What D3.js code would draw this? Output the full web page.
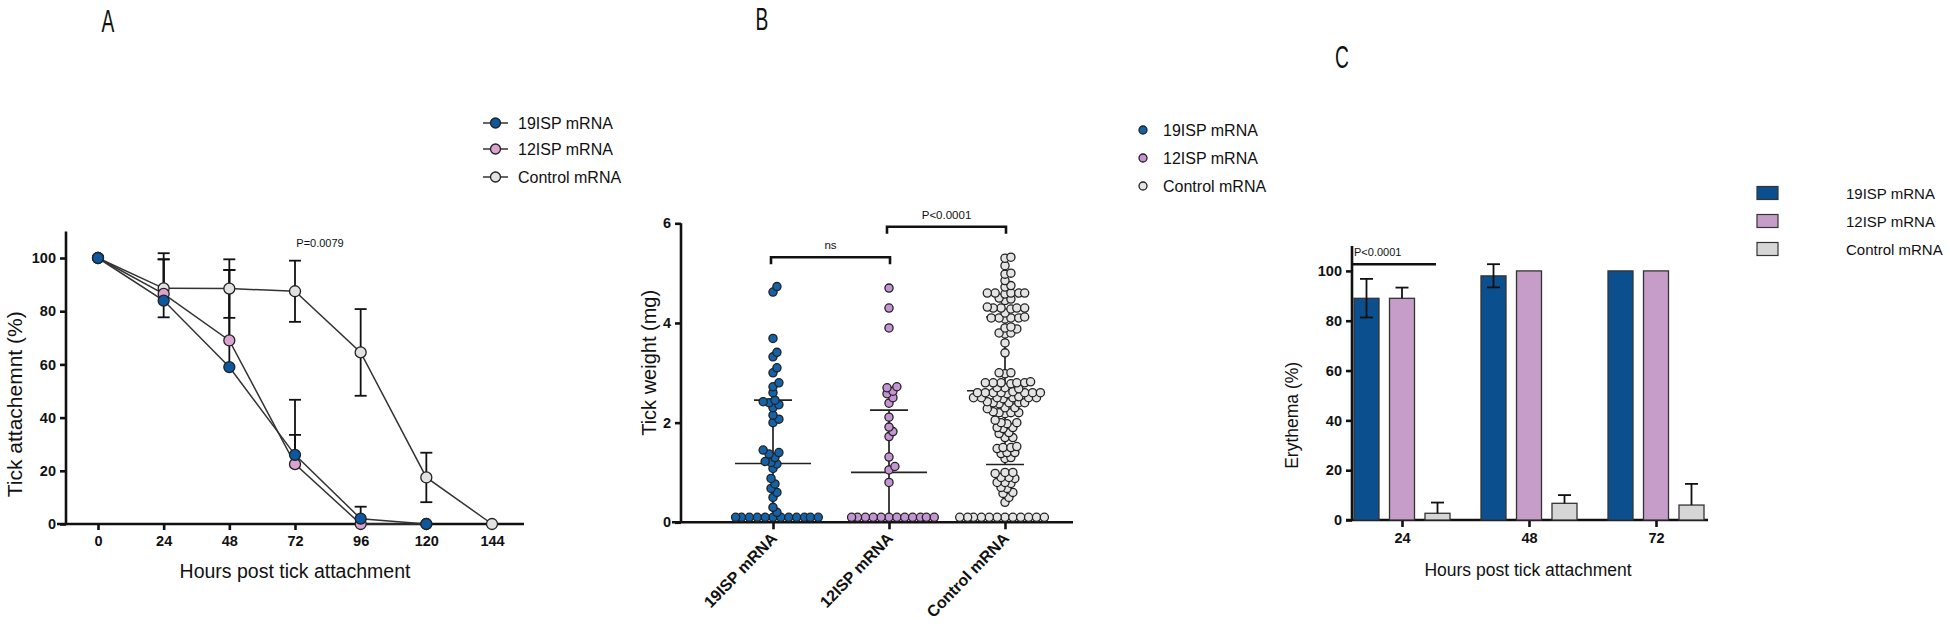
<!DOCTYPE html>
<html><head><meta charset="utf-8">
<script src="https://cdn.jsdelivr.net/npm/d3@7/dist/d3.min.js"></script>
<style>
body{margin:0;background:#fff;}
text{font-family:"Liberation Sans",Arial,sans-serif;fill:#111;}
</style></head>
<body>
<svg id="chart" width="1950" height="627"></svg>
<script>
// ---------------- DATA ----------------
// Panel A: tick attachment (%)
const hoursA = [0, 24, 48, 72, 96, 120, 144];
const seriesNames = ["19ISP mRNA", "12ISP mRNA", "Control mRNA"];
const attach19 = [100, 84, 59, 26, 2, 0, null];
const attach12 = [100, 86.5, 69, 22.5, 0, 0, null];
const attachCtl = [100, 88.6, 88.5, 87.5, 64.5, 17.5, 0];
const errUp19 = [0, 17.8, 36.5, 20.7, 4.5, 0, 0];
const errUp12 = [0, 13, 26.5, 11, 0, 0, 0];
const errUpCtl = [0, 10.9, 11, 11.5, 16.3, 9.3, 0];
const errDnCtl = [0, 10.9, 11, 11.5, 16.3, 9.3, 0];
const yTicksA = [0, 20, 40, 60, 80, 100];
const pA = "P=0.0079";

// Panel B: tick weight (mg)
const groupsB = ["19ISP mRNA", "12ISP mRNA", "Control mRNA"];
const weight19 = [4.73, 4.62, 3.69, 3.41, 3.32, 3.1, 3.0, 2.8, 2.72, 2.6, 2.45, 2.42, 2.4, 2.36, 2.3, 2.15, 2.07, 2.0,
  1.45, 1.4, 1.37, 1.3, 1.22, 1.2, 1.17, 1.08, 0.88, 0.77, 0.68, 0.6, 0.5, 0.3, 0.2,
  0.1, 0.1, 0.1, 0.1, 0.1, 0.1, 0.1, 0.1, 0.1, 0.1, 0.1, 0.1];
const weight12 = [4.7, 4.3, 3.9, 2.72, 2.7, 2.63, 2.58, 2.5, 2.39, 2.11, 1.91, 1.82, 1.72, 1.31, 1.12, 1.05, 0.8,
  0.1, 0.1, 0.1, 0.1, 0.1, 0.1, 0.1, 0.1, 0.1, 0.1, 0.1, 0.1];
const weightCtl = [5.32, 5.3, 5.15, 5.0, 4.98, 4.85, 4.75, 4.72,
  4.6, 4.6, 4.6, 4.58, 4.6, 4.6, 4.5, 4.48, 4.45,
  4.3, 4.3, 4.28, 4.3, 4.3, 4.32, 4.2, 4.1, 4.1, 4.1, 4.12, 4.08, 4.1,
  3.92, 3.9, 3.88, 3.8, 3.8, 3.78, 3.6, 3.4, 3.0, 3.0, 2.98,
  2.8, 2.8, 2.8, 2.78, 2.82, 2.8, 2.8, 2.7, 2.7, 2.68,
  2.6, 2.6, 2.6, 2.6, 2.62, 2.58, 2.6, 2.6, 2.6, 2.5, 2.5, 2.5, 2.48, 2.52, 2.5, 2.5, 2.5,
  2.4, 2.4, 2.4, 2.38, 2.42, 2.4, 2.3, 2.3, 2.28, 2.2, 2.2, 2.22, 2.18, 2.2,
  2.05, 2.0, 2.0, 1.98, 1.9, 1.9, 1.88, 1.8, 1.78, 1.7, 1.7,
  1.5, 1.5, 1.48, 1.52, 1.4, 1.4, 1.38, 1.3, 1.28,
  1.0, 1.0, 0.98, 0.9, 0.9, 0.88, 0.8, 0.8, 0.78, 0.7, 0.68, 0.6, 0.58, 0.5, 0.4,
  0.1, 0.1, 0.1, 0.1, 0.1, 0.1, 0.1, 0.1, 0.1, 0.1, 0.1, 0.1];
const meanB = [1.18, 1.0, 2.64];
const sdB = [1.27, 1.25, 1.48];
const yTicksB = [0, 2, 4, 6];
const bracketsB = [{from: 0, to: 1, label: "ns", level: 5.32}, {from: 1, to: 2, label: "P<0.0001", level: 5.93}];

// Panel C: erythema (%)
const hoursC = ["24", "48", "72"];
const ery19 = [89, 98, 100];
const ery12 = [89, 100, 100];
const eryCtl = [2.7, 6.7, 6];
const eryErrUp19 = [7.8, 4.7, 0];
const eryErrDn19 = [7.7, 4.6, 0];
const eryErrUp12 = [4.3, 0, 0];
const eryErrUpCtl = [4.3, 3.3, 8.5];
const yTicksC = [0, 20, 40, 60, 80, 100];
const pC = "P<0.0001";

// ---------------- STYLE ----------------
const NARROW = "'Liberation Sans Narrow','Arial Narrow','DejaVu Sans Condensed',sans-serif";
const colA = ["#0b57a0", "#dba3cf", "#e2e2e2"];
const colB = ["#1462a8", "#c595d3", "#e4e4e4"];
const colC = ["#0c4f8e", "#c69dc9", "#d6d6d6"];
const svg = d3.select("#chart");
const AXW = 2.6;

function styleAxis(g) {
  g.selectAll(".domain").attr("stroke", "#111").attr("stroke-width", AXW);
  g.selectAll(".tick line").attr("stroke", "#111").attr("stroke-width", AXW);
  g.selectAll(".tick text").attr("font-weight", "bold").attr("font-size", 14.5)
    .attr("font-family", NARROW).attr("fill", "#111");
}

// panel letters
[["A", 108, 32], ["B", 762, 30], ["C", 1342, 68]].forEach(d => {
  svg.append("text").attr("transform", `translate(${d[1]},${d[2]}) scale(0.62,1)`)
    .attr("text-anchor", "middle").attr("font-size", 31).text(d[0]);
});

// =============== PANEL A =================
{
  const x = d3.scaleLinear().domain([0, 144]).range([98, 492]);
  const y = d3.scaleLinear().domain([0, 110]).range([524, 231.4]);
  const gA = svg.append("g");
  const xa = gA.append("g").attr("transform", `translate(0,${y(0)})`)
    .call(d3.axisBottom(x).tickValues(hoursA).tickSize(6).tickPadding(6).tickSizeOuter(0));
  xa.select(".domain").attr("d", `M57,0H524`);
  styleAxis(xa);
  const ya = gA.append("g").attr("transform", `translate(66,0)`)
    .call(d3.axisLeft(y).tickValues(yTicksA).tickSize(6).tickPadding(4).tickSizeOuter(0));
  ya.select(".domain").attr("d", `M0,${y(110)}V${y(0)}`);
  styleAxis(ya);

  const series = [
    {v: attachCtl, up: errUpCtl, dn: errDnCtl, c: colA[2]},
    {v: attach12, up: errUp12, dn: null, c: colA[1]},
    {v: attach19, up: errUp19, dn: null, c: colA[0]}
  ];
  const ebar = (cx, v0, v1) => {
    gA.append("line").attr("x1", cx).attr("x2", cx).attr("y1", y(v0)).attr("y2", y(v1)).attr("stroke", "#111").attr("stroke-width", 1.8);
    gA.append("line").attr("x1", cx - 6).attr("x2", cx + 6).attr("y1", y(v1)).attr("y2", y(v1)).attr("stroke", "#111").attr("stroke-width", 1.8);
  };
  series.forEach(s => {
    s.v.forEach((v, i) => {
      if (v == null) return;
      const u = s.up[i], dd = s.dn ? s.dn[i] : 0;
      if (u > 0) ebar(x(hoursA[i]), v, v + u);
      if (dd > 0) ebar(x(hoursA[i]), v, v - dd);
    });
  });
  const line = d3.line().defined(d => d[1] != null).x(d => x(d[0])).y(d => y(d[1]));
  series.forEach(s => {
    gA.append("path").attr("d", line(hoursA.map((h, i) => [h, s.v[i]]))).attr("fill", "none").attr("stroke", "#333").attr("stroke-width", 1.5);
  });
  series.forEach(s => {
    s.v.forEach((v, i) => {
      if (v == null) return;
      gA.append("circle").attr("cx", x(hoursA[i])).attr("cy", y(v)).attr("r", 5.5).attr("fill", s.c).attr("stroke", "#222").attr("stroke-width", 1.3);
    });
  });
  gA.append("text").attr("x", x(72) + 25).attr("y", 247).attr("text-anchor", "middle").attr("font-size", 11).attr("font-family", NARROW).text(pA);
  gA.append("text").attr("x", 295).attr("y", 578).attr("text-anchor", "middle").attr("font-size", 19.5).text("Hours post tick attachment");
  gA.append("text").attr("transform", `translate(22,${y(45)}) rotate(-90)`).attr("text-anchor", "middle").attr("font-size", 21).text("Tick attachemnt (%)");
  const lg = gA.append("g");
  colA.forEach((c, i) => {
    const yy = [123, 149, 177][i];
    lg.append("line").attr("x1", 483).attr("x2", 508).attr("y1", yy).attr("y2", yy).attr("stroke", "#333").attr("stroke-width", 1.5);
    lg.append("circle").attr("cx", 495.5).attr("cy", yy).attr("r", 5).attr("fill", c).attr("stroke", "#222").attr("stroke-width", 1.3);
    lg.append("text").attr("x", 518).attr("y", yy + 5.5).attr("font-size", 16).text(seriesNames[i]);
  });
}

// =============== PANEL B =================
{
  const x = d3.scalePoint().domain(groupsB).range([773, 1005]);
  const y = d3.scaleLinear().domain([0, 6]).range([522.3, 223.3]);
  const gB = svg.append("g");
  const xa = gB.append("g").attr("transform", `translate(0,${y(0)})`)
    .call(d3.axisBottom(x).tickSize(7).tickSizeOuter(0).tickFormat(""));
  xa.select(".domain").attr("d", `M672,0H1073`);
  styleAxis(xa);
  const ya = gB.append("g").attr("transform", `translate(681,0)`)
    .call(d3.axisLeft(y).tickValues(yTicksB).tickFormat(d3.format("d")).tickSize(6).tickPadding(4).tickSizeOuter(0));
  ya.select(".domain").attr("d", `M0,${y(6)}V${y(0)}`);
  styleAxis(ya);
  groupsB.forEach(g => {
    gB.append("text").attr("transform", `translate(${x(g) + 5},${y(0) + 17}) rotate(-46)`)
      .attr("text-anchor", "end").attr("font-weight", "bold").attr("font-size", 16).attr("font-family", NARROW).text(g);
  });
  const data = [weight19, weight12, weightCtl];
  data.forEach((arr, gi) => {
    const cx = x(groupsB[gi]);
    const m = meanB[gi], s = sdB[gi];
    const lo = Math.max(0, m - s), hi = m + s;
    const st = l => l.attr("stroke", "#222").attr("stroke-width", 1.7);
    st(gB.append("line").attr("x1", cx).attr("x2", cx).attr("y1", y(lo)).attr("y2", y(hi)));
    st(gB.append("line").attr("x1", cx - 38).attr("x2", cx + 38).attr("y1", y(m)).attr("y2", y(m)));
    st(gB.append("line").attr("x1", cx - 19).attr("x2", cx + 19).attr("y1", y(hi)).attr("y2", y(hi)));
    if (m - s > 0) st(gB.append("line").attr("x1", cx - 19).attr("x2", cx + 19).attr("y1", y(lo)).attr("y2", y(lo)));
  });
  // beeswarm layout computed from values
  const R = 4.1, D = 2 * R * 0.72;
  data.forEach((arr, gi) => {
    const cx = x(groupsB[gi]);
    const pts = arr.map(v => ({v, py: y(v)})).sort((a, b) => a.v - b.v);
    const placed = [];
    pts.forEach(p => {
      let best = null;
      for (let k = 0; k < 120 && best == null; k++) {
        const cands = k === 0 ? [0] : [k, -k];
        for (const c of cands) {
          const px = cx + c * D / 3;
          if (placed.every(q => (q.px - px) ** 2 + (q.py - p.py) ** 2 >= D * D)) { best = px; break; }
        }
      }
      p.px = best; placed.push(p);
    });
    placed.forEach(p => gB.append("circle").attr("cx", p.px).attr("cy", p.py).attr("r", R)
      .attr("fill", colB[gi]).attr("stroke", "#222").attr("stroke-width", 1.3));
  });
  bracketsB.forEach(b => {
    const x1 = x(groupsB[b.from]) - 2, x2 = x(groupsB[b.to]) + 1, yy = y(b.level);
    gB.append("path").attr("d", `M${x1},${yy + 7}V${yy}H${x2}V${yy + 7}`).attr("fill", "none").attr("stroke", "#111").attr("stroke-width", 2.6);
    gB.append("text").attr("x", (x1 + x2) / 2).attr("y", yy - 8).attr("text-anchor", "middle").attr("font-size", 11.5).attr("font-family", NARROW).text(b.label);
  });
  gB.append("text").attr("transform", `translate(656,${y(3.2)}) rotate(-90)`).attr("text-anchor", "middle").attr("font-size", 20).text("Tick weight (mg)");
  seriesNames.forEach((n, i) => {
    const yy = [130, 158, 186][i];
    gB.append("circle").attr("cx", 1143).attr("cy", yy).attr("r", 4).attr("fill", colB[i]).attr("stroke", "#222").attr("stroke-width", 1.3);
    gB.append("text").attr("x", 1163).attr("y", yy + 5.5).attr("font-size", 16).text(n);
  });
}

// =============== PANEL C =================
{
  const x0 = d3.scalePoint().domain(hoursC).range([1402, 1656]);
  const off = d3.scalePoint().domain([0, 1, 2]).range([-35.5, 35.5]);
  const BW = 25;
  const y = d3.scaleLinear().domain([0, 110]).range([520, 246]);
  const gC = svg.append("g");
  const xa = gC.append("g").attr("transform", `translate(0,${y(0)})`)
    .call(d3.axisBottom(x0).tickSize(7).tickPadding(6).tickSizeOuter(0));
  xa.select(".domain").attr("d", `M1346,0H1708`);
  styleAxis(xa);
  const ya = gC.append("g").attr("transform", `translate(1352,0)`)
    .call(d3.axisLeft(y).tickValues(yTicksC).tickSize(6).tickPadding(4).tickSizeOuter(0));
  ya.select(".domain").attr("d", `M0,${y(110)}V${y(0)}`);
  styleAxis(ya);
  const vals = [ery19, ery12, eryCtl];
  const ups = [eryErrUp19, eryErrUp12, eryErrUpCtl];
  const dns = [eryErrDn19, null, null];
  const eb = (cx, v0, v1) => {
    gC.append("line").attr("x1", cx).attr("x2", cx).attr("y1", y(v0)).attr("y2", y(v1)).attr("stroke", "#111").attr("stroke-width", 1.8);
    gC.append("line").attr("x1", cx - 6.5).attr("x2", cx + 6.5).attr("y1", y(v1)).attr("y2", y(v1)).attr("stroke", "#111").attr("stroke-width", 1.8);
  };
  hoursC.forEach((h, i) => {
    vals.forEach((arr, s) => {
      const cx = x0(h) + off(s);
      gC.append("rect").attr("x", cx - BW / 2).attr("y", y(arr[i])).attr("width", BW).attr("height", y(0) - y(arr[i]))
        .attr("fill", colC[s]).attr("stroke", "#333").attr("stroke-width", 1.3);
      const u = ups[s][i], d = dns[s] ? dns[s][i] : 0;
      if (u > 0) eb(cx, arr[i], arr[i] + u);
      if (d > 0) eb(cx, arr[i], arr[i] - d);
    });
  });
  gC.append("line").attr("x1", 1353).attr("x2", 1436).attr("y1", y(102.7)).attr("y2", y(102.7)).attr("stroke", "#111").attr("stroke-width", 2.6);
  gC.append("text").attr("x", 1354).attr("y", y(102.7) - 8).attr("font-size", 11).attr("font-family", NARROW).text(pC);
  gC.append("text").attr("x", 1528).attr("y", 576).attr("text-anchor", "middle").attr("font-size", 17.5).text("Hours post tick attachment");
  gC.append("text").attr("transform", `translate(1298,${y(42)}) rotate(-90)`).attr("text-anchor", "middle").attr("font-size", 17.5).text("Erythema (%)");
  seriesNames.forEach((n, i) => {
    const yy = [193, 221, 249][i];
    gC.append("rect").attr("x", 1757).attr("y", yy - 6.5).attr("width", 21).attr("height", 13).attr("fill", colC[i]).attr("stroke", "#333").attr("stroke-width", 1.2);
    gC.append("text").attr("x", 1846).attr("y", yy + 5.5).attr("font-size", 15).text(n);
  });
}
</script>
</body></html>
